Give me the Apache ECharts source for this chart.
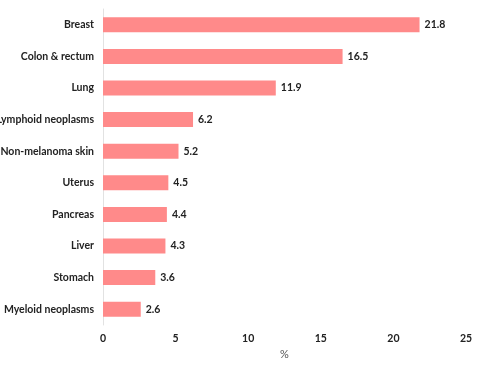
<!DOCTYPE html>
<html>
<head>
<meta charset="utf-8">
<script src="https://cdn.jsdelivr.net/npm/echarts@6/dist/echarts.min.js"></script>
<style>
  html, body { margin: 0; padding: 0; background: #fff; }
  #chart { width: 494px; height: 372px; }
</style>
</head>
<body>
<div id="chart"></div>
<script>
// Cancer sites, listed top to bottom
const sites = ['Breast', 'Colon & rectum', 'Lung', 'Lymphoid neoplasms', 'Non-melanoma skin',
               'Uterus', 'Pancreas', 'Liver', 'Stomach', 'Myeloid neoplasms'];
// Share of cases (%)
const shares = [21.8, 16.5, 11.9, 6.2, 5.2, 4.5, 4.4, 4.3, 3.6, 2.6];
const xTicks = { min: 0, max: 25, step: 5 };

const font = '"Lato", "DejaVu Sans", sans-serif';
const chart = echarts.init(document.getElementById('chart'));
chart.setOption({
  animation: false,
  grid: { left: 103, right: 28, top: 9, bottom: 47, containLabel: false, outerBoundsMode: 'none' },
  xAxis: {
    type: 'value',
    min: xTicks.min, max: xTicks.max, interval: xTicks.step,
    name: '%', nameLocation: 'middle', nameGap: 24,
    nameTextStyle: { color: '#555', fontSize: 11, fontFamily: font },
    axisLine: { show: false }, axisTick: { show: false },
    splitLine: { show: false },
    axisLabel: { color: '#222', fontSize: 10.5, fontWeight: 'bold', fontFamily: font, margin: 8 }
  },
  yAxis: {
    type: 'category', data: sites, inverse: true,
    axisLine: { show: true, lineStyle: { color: '#e2e2e2', width: 1 } },
    axisTick: { show: false },
    axisLabel: { color: '#222', fontSize: 10.5, fontWeight: 'bold', fontFamily: font, margin: 9 }
  },
  series: [{
    type: 'bar', data: shares, barWidth: 15,
    itemStyle: { color: '#ff8a8a' },
    label: { show: true, position: 'right', distance: 5, color: '#222',
             fontSize: 10.5, fontWeight: 'bold', fontFamily: font }
  }]
});
</script>
</body>
</html>
